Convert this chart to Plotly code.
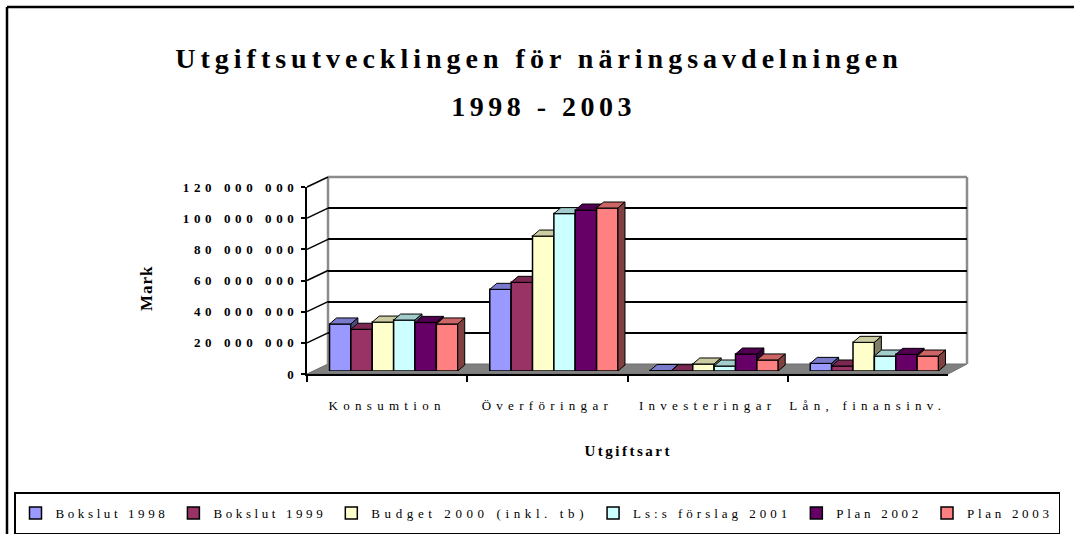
import json
import plotly.graph_objects as go

# ---------------- data ----------------
categories = ["Konsumtion", "Överföringar", "Investeringar", "Lån, finansinv."]
series_names = ["Bokslut 1998", "Bokslut 1999", "Budget 2000 (inkl. tb)",
                "Ls:s förslag 2001", "Plan 2002", "Plan 2003"]
bokslut_1998 = [30.2e6, 52.4e6, 0.3e6, 4.9e6]
bokslut_1999 = [26.8e6, 56.9e6, 0.2e6, 3.2e6]
budget_2000 = [31.4e6, 86.6e6, 4.5e6, 18.4e6]
ls_forslag_2001 = [32.7e6, 101.0e6, 3.2e6, 9.6e6]
plan_2002 = [31.2e6, 103.3e6, 10.9e6, 10.7e6]
plan_2003 = [30.2e6, 104.6e6, 7.1e6, 9.6e6]
series_values = [bokslut_1998, bokslut_1999, budget_2000, ls_forslag_2001, plan_2002, plan_2003]
y_tick_values = [0, 20e6, 40e6, 60e6, 80e6, 100e6, 120e6]
y_tick_labels = ["0", "20 000 000", "40 000 000", "60 000 000", "80 000 000",
                 "100 000 000", "120 000 000"]
title_line1 = "Utgiftsutvecklingen för näringsavdelningen"
title_line2 = "1998 - 2003"
y_title = "Mark"
x_title = "Utgiftsart"

# ---------------- style ----------------
colors = ["#9999FF", "#993366", "#FFFFCC", "#CCFFFF", "#660066", "#FF8080"]
legend_spacing = [3.6, 3.6, 4.6, 4.0, 3.7, 3.7]
W, H = 1074, 534
SERIF = "Liberation Serif"


def shade(hexc, f):
    h = hexc.lstrip("#")
    r, g, b = (int(h[i:i + 2], 16) for i in (0, 2, 4))
    return "rgb(%d,%d,%d)" % (r * f, g * f, b * f)


def px(x):
    return x / W


def py(y):
    return 1 - y / H


YMAX = 120e6
FX0, FX1, FY0, FY1 = 307, 948, 374, 187      # front axis (px)
BX0, BX1, BY0, BY1 = 328, 967, 364, 177      # back wall (px)
BARX0, BARX1, BARY0 = 313.5, 954.5, 371      # bar plane (px)
PXPERVAL = (FY0 - FY1) / YMAX
n_cat = len(categories)
n_ser = len(series_names)
w = 0.8 / n_ser
dx = 7 / ((BARX1 - BARX0) / n_cat)
dy = 6 / PXPERVAL

fig = go.Figure()

fig.add_trace(go.Scatter(x=[0, 1], y=[None, None], xaxis="x", yaxis="y",
                         showlegend=False, hoverinfo="skip", mode="markers"))
fig.add_trace(go.Scatter(x=categories, y=[None] * n_cat, xaxis="x2", yaxis="y2",
                         showlegend=False, hoverinfo="skip", mode="markers"))

for k, (name, vals, col) in enumerate(zip(series_names, series_values, colors)):
    xa, ya = "x%d" % (k + 3), "y%d" % (k + 3)
    off = -0.4 + k * w
    styled = ("<span style='font-size:13px;letter-spacing:%.1fpx;baseline-shift:3px'>%s</span>"
              % (legend_spacing[k], name))
    fig.add_trace(go.Bar(x=list(range(n_cat)), y=vals, width=w, offset=off, name=styled,
                         marker=dict(color=col, line=dict(color="black", width=1.5)),
                         xaxis=xa, yaxis=ya, hoverinfo="skip"))
    tx, ty, sx, sy = [], [], [], []
    for i, v in enumerate(vals):
        x0 = i + off
        x1 = x0 + w
        tx += [x0, x1, x1 + dx, x0 + dx, x0, None]
        ty += [v, v, v + dy, v + dy, v, None]
        sx += [x1, x1 + dx, x1 + dx, x1, x1, None]
        sy += [0, dy, v + dy, v, 0, None]
    fig.add_trace(go.Scatter(x=tx, y=ty, fill="toself", fillcolor=shade(col, 0.8), mode="lines",
                             line=dict(color="black", width=1), xaxis=xa, yaxis=ya,
                             showlegend=False, hoverinfo="skip"))
    fig.add_trace(go.Scatter(x=sx, y=sy, fill="toself", fillcolor=shade(col, 0.5), mode="lines",
                             line=dict(color="black", width=1), xaxis=xa, yaxis=ya,
                             showlegend=False, hoverinfo="skip"))

layout = dict(
    width=W, height=H,
    margin=dict(l=0, r=0, t=0, b=0, autoexpand=False),
    paper_bgcolor="white", plot_bgcolor="rgba(0,0,0,0)",
    hovermode=False,
    title=dict(text=title_line1, x=px(539), xanchor="center", y=py(58), yanchor="middle",
               xref="paper", yref="container",
               font=dict(family=SERIF, size=28, color="black", weight="bold")),
    xaxis=dict(domain=[px(BX0), px(BX1)], range=[0, 1], visible=False, anchor="y"),
    yaxis=dict(domain=[py(BY0), py(BY1)], range=[0, YMAX], anchor="x",
               tickvals=y_tick_values[1:-1], showticklabels=False, ticks="",
               showgrid=True, gridcolor="black", gridwidth=1.5, zeroline=False, showline=False),
    xaxis2=dict(domain=[px(FX0), px(FX1)], anchor="y2", type="category",
                categoryorder="array", categoryarray=categories, range=[-0.5, n_cat - 0.5],
                showline=True, linecolor="black", linewidth=2, ticks="outside", ticklen=6,
                tickwidth=1.5, tickcolor="black", tickson="boundaries", showgrid=False,
                zeroline=False, ticklabelstandoff=18,
                tickfont=dict(family=SERIF, size=13, color="black")),
    yaxis2=dict(domain=[py(FY0), py(FY1)], range=[0, YMAX], anchor="x2",
                tickvals=y_tick_values, ticktext=y_tick_labels, showline=True, linecolor="black",
                linewidth=2, ticks="outside", ticklen=4, tickwidth=1.5, tickcolor="black",
                showgrid=False, zeroline=False,
                tickfont=dict(family=SERIF, size=13, color="black", weight="bold")),
    showlegend=True,
    legend=dict(orientation="h", x=px(14), y=py(492), xanchor="left", yanchor="top",
                xref="paper", yref="paper",
                bgcolor="white", bordercolor="black", borderwidth=1.5,
                font=dict(family=SERIF, size=20, color="black"), itemwidth=30,
                traceorder="normal"),
)
for k in range(n_ser):
    layout["xaxis%d" % (k + 3)] = dict(domain=[px(BARX0), px(BARX1)], range=[-0.5, n_cat - 0.5],
                                        visible=False, anchor="y%d" % (k + 3))
    layout["yaxis%d" % (k + 3)] = dict(domain=[py(BARY0), py(BARY0 - YMAX * PXPERVAL)],
                                        range=[0, YMAX], visible=False, anchor="x%d" % (k + 3))
fig.update_layout(**layout)

fig.add_annotation(text=title_line2, x=px(543), y=py(106), xref="paper", yref="paper",
                   xanchor="center", yanchor="middle", showarrow=False,
                   font=dict(family=SERIF, size=28, color="black", weight="bold"))
fig.add_annotation(text=y_title, x=px(146), y=py(288), xref="paper", yref="paper",
                   xanchor="center", yanchor="middle", showarrow=False, textangle=-90,
                   font=dict(family=SERIF, size=17, color="black", weight="bold"))
fig.add_annotation(text=x_title, x=px(628), y=py(451), xref="paper", yref="paper",
                   xanchor="center", yanchor="middle", showarrow=False,
                   font=dict(family=SERIF, size=15, color="black", weight="bold"))

shapes = []
shapes.append(dict(type="line", x0=px(7), y0=py(7), x1=px(1074), y1=py(7), xref="paper", yref="paper",
                   line=dict(color="black", width=2.5)))
shapes.append(dict(type="line", x0=px(7), y0=py(7), x1=px(7), y1=py(534), xref="paper", yref="paper",
                   line=dict(color="black", width=2.5)))
floor = "M %f,%f L %f,%f L %f,%f L %f,%f Z" % (px(FX0), py(FY0), px(FX1), py(FY0),
                                               px(BX1), py(BY0), px(BX0), py(BY0))
shapes.append(dict(type="path", path=floor, xref="paper", yref="paper", fillcolor="#808080",
                   line=dict(color="#6e6e6e", width=1), layer="below"))
for (a, b, c, d) in [(BX0, BY1, BX1, BY1), (BX0, BY1, BX0, BY0), (BX1, BY1, BX1, BY0)]:
    shapes.append(dict(type="line", x0=px(a), y0=py(b), x1=px(c), y1=py(d), xref="paper",
                       yref="paper", line=dict(color="#8c8c8c", width=2.5), layer="below"))
for v in y_tick_values[1:]:
    yf = FY0 - v * PXPERVAL
    yb = BY0 - v * PXPERVAL
    shapes.append(dict(type="line", x0=px(FX0), y0=py(yf), x1=px(BX0), y1=py(yb), xref="paper",
                       yref="paper", line=dict(color="black", width=1.5), layer="below"))
fig.update_layout(shapes=shapes)

css = ("body{margin:0;overflow:hidden;}"
       ".gtitle{letter-spacing:5px;}"
       ".annotation[data-index='0'] text{letter-spacing:4.5px;}"
       ".annotation[data-index='1'] text{letter-spacing:1px;}"
       ".annotation[data-index='2'] text{letter-spacing:2.5px;}"
       ".x2tick text{letter-spacing:5.3px;}"
       ".y2tick text{letter-spacing:4.6px;}")
post = ("var s=document.createElement('style');s.textContent=" + json.dumps(css) + ";"
        "document.head.appendChild(s);")

fig.write_html("out.html", post_script=post, config={"displayModeBar": False})
